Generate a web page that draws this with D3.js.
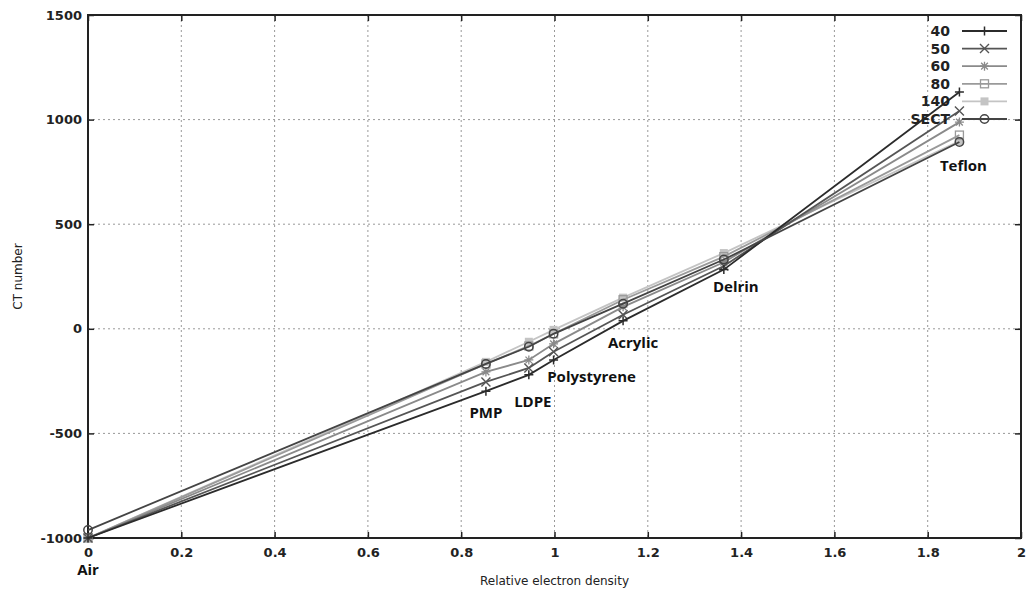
<!DOCTYPE html>
<html>
<head>
<meta charset="utf-8">
<script src="https://cdn.jsdelivr.net/npm/d3@7"></script>
<style>
  body { margin: 0; background: #fff; }
  .tick text { font-family: "DejaVu Sans", Verdana, sans-serif; font-weight: bold; font-size: 13px; fill: #222; }
  .mat { font-family: "Open Sans", "Noto Sans", sans-serif; font-weight: bold; font-size: 15px; fill: #111; }
  .ttl { font-family: "DejaVu Sans", Verdana, sans-serif; font-size: 12px; fill: #222; }
  .leg { font-family: "DejaVu Sans", Verdana, sans-serif; font-weight: bold; font-size: 14px; fill: #222; }
</style>
</head>
<body>
<div id="chart"></div>
<script>
const width = 1030;
const height = 592;
const margin = {top: 15, right: 9, bottom: 55, left: 88};

// materials and their relative electron density
const materials = ["Air", "PMP", "LDPE", "Polystyrene", "Acrylic", "Delrin", "Teflon"];
const density = [0, 0.853, 0.945, 0.998, 1.147, 1.363, 1.868];

// CT number per series (kVp / SECT)
const ct40 = [-1000, -298, -220, -149, 38, 283, 1132];
const ct50 = [-1000, -254, -187, -110, 67, 300, 1041];
const ct60 = [-1000, -206, -149, -72, 105, 318, 988];
const ct80 = [-1000, -168, -82, -24, 139, 345, 926];
const ct140 = [-1000, -158, -62, -5, 149, 362, 897];
const ctSect = [-962, -168, -86, -24, 120, 331, 893];

const seriesNames = ["40", "50", "60", "80", "140", "SECT"];
const xTicks = [0, 0.2, 0.4, 0.6, 0.8, 1, 1.2, 1.4, 1.6, 1.8, 2];
const yTicks = [-1000, -500, 0, 500, 1000, 1500];

const series = [
  {name: seriesNames[0], values: ct40, line: "#2b2b2b", mark: "plus"},
  {name: seriesNames[1], values: ct50, line: "#555", mark: "cross"},
  {name: seriesNames[2], values: ct60, line: "#8a8a8a", mark: "star"},
  {name: seriesNames[3], values: ct80, line: "#9a9a9a", mark: "square"},
  {name: seriesNames[4], values: ct140, line: "#c4c4c4", mark: "fsquare"},
  {name: seriesNames[5], values: ctSect, line: "#444", mark: "circle"}
];

// label placement offsets (pixels relative to the 40 kVp point)
const labelOffsets = [[0, 32], [0, 27], [4, 32], [38, 22], [10, 27], [12, 22], [4, 79]];

const x = d3.scaleLinear().domain([0, 2]).range([margin.left, width - margin.right]);
const y = d3.scaleLinear().domain([-1000, 1500]).range([height - margin.bottom + 1, margin.top]);

const svg = d3.select("#chart").append("svg")
  .attr("width", width).attr("height", height);

const pw = x(2) - x(0), ph = y(-1000) - y(1500);

// grid
svg.append("g").selectAll("line").data(xTicks.slice(1, -1)).join("line")
  .attr("x1", d => x(d)).attr("x2", d => x(d)).attr("y1", y(1500)).attr("y2", y(-1000))
  .attr("stroke", "#999").attr("stroke-dasharray", "2,3").attr("stroke-width", 1);
svg.append("g").selectAll("line").data(yTicks.slice(1, -1)).join("line")
  .attr("y1", d => y(d)).attr("y2", d => y(d)).attr("x1", x(0)).attr("x2", x(2))
  .attr("stroke", "#999").attr("stroke-dasharray", "2,3").attr("stroke-width", 1);

// axes with inward ticks
svg.append("g").attr("transform", `translate(0,${y(-1000)})`)
  .call(d3.axisBottom(x).tickValues(xTicks).tickFormat(d => String(d)).tickSize(-6).tickPadding(10))
  .call(g => g.select(".domain").remove());
svg.append("g").attr("transform", `translate(${x(0)},0)`)
  .call(d3.axisLeft(y).tickValues(yTicks).tickFormat(d => String(d)).tickSize(-6).tickPadding(6))
  .call(g => g.select(".domain").remove());
svg.append("g").attr("transform", `translate(0,${y(1500)})`)
  .call(d3.axisTop(x).tickValues(xTicks).tickSize(-6).tickFormat(""))
  .call(g => g.select(".domain").remove());
svg.append("g").attr("transform", `translate(${x(2)},0)`)
  .call(d3.axisRight(y).tickValues(yTicks).tickSize(-6).tickFormat(""))
  .call(g => g.select(".domain").remove());
svg.selectAll(".tick line").attr("stroke", "#222").attr("stroke-width", 1.5);

svg.append("rect")
  .attr("x", x(0)).attr("y", y(1500)).attr("width", pw).attr("height", ph)
  .attr("fill", "none").attr("stroke", "#222").attr("stroke-width", 2);

const line = d3.line().x((d, i) => x(density[i])).y(d => y(d));

const drawMark = (g, type, color, cx, cy) => {
  const s = 4.5;
  if (type === "plus") {
    g.append("path").attr("d", `M${cx - s},${cy}H${cx + s}M${cx},${cy - s}V${cy + s}`)
      .attr("stroke", color).attr("stroke-width", 1.5);
  } else if (type === "cross") {
    g.append("path").attr("d", `M${cx - s},${cy - s}L${cx + s},${cy + s}M${cx - s},${cy + s}L${cx + s},${cy - s}`)
      .attr("stroke", color).attr("stroke-width", 1.4);
  } else if (type === "star") {
    g.append("path").attr("d", `M${cx - s},${cy}H${cx + s}M${cx},${cy - s}V${cy + s}M${cx - s * 0.75},${cy - s * 0.75}L${cx + s * 0.75},${cy + s * 0.75}M${cx - s * 0.75},${cy + s * 0.75}L${cx + s * 0.75},${cy - s * 0.75}`)
      .attr("stroke", color).attr("stroke-width", 1.3);
  } else if (type === "square") {
    g.append("rect").attr("x", cx - 4).attr("y", cy - 4).attr("width", 8).attr("height", 8)
      .attr("fill", "none").attr("stroke", color).attr("stroke-width", 1.3);
  } else if (type === "fsquare") {
    g.append("rect").attr("x", cx - 4).attr("y", cy - 4).attr("width", 8).attr("height", 8)
      .attr("fill", color).attr("stroke", "none");
  } else {
    g.append("circle").attr("cx", cx).attr("cy", cy).attr("r", 4.2)
      .attr("fill", "none").attr("stroke", color).attr("stroke-width", 1.5);
  }
};

// draw lighter series first
const order = [4, 3, 2, 1, 0, 5];
order.forEach(k => {
  const s = series[k];
  const g = svg.append("g");
  g.append("path").datum(s.values).attr("d", line)
    .attr("fill", "none").attr("stroke", s.line).attr("stroke-width", 1.8);
  s.values.forEach((v, i) => drawMark(g, s.mark, s.line, x(density[i]), y(v)));
});

// material labels
svg.append("g").selectAll("text").data(materials).join("text")
  .attr("class", "mat")
  .attr("text-anchor", "middle")
  .attr("x", (d, i) => x(density[i]) + labelOffsets[i][0])
  .attr("y", (d, i) => (i === 0 ? y(-1000) + 37 : y(ct40[i]) + labelOffsets[i][1]))
  .text(d => d);

// legend
const leg = svg.append("g");
series.forEach((s, i) => {
  const ly = 31 + i * 17.6;
  leg.append("text").attr("class", "leg").attr("x", 950).attr("y", ly + 5)
    .attr("text-anchor", "end").text(s.name);
  leg.append("line").attr("x1", 962).attr("x2", 1007).attr("y1", ly).attr("y2", ly)
    .attr("stroke", s.line).attr("stroke-width", 1.8);
  drawMark(leg, s.mark, s.line, 984.5, ly);
});

// axis titles
svg.append("text").attr("class", "ttl").attr("x", x(1)).attr("y", 585)
  .attr("text-anchor", "middle").text("Relative electron density");
svg.append("text").attr("class", "ttl")
  .attr("transform", `translate(22,${(y(1500) + y(-1000)) / 2}) rotate(-90)`)
  .attr("text-anchor", "middle").text("CT number");
</script>
</body>
</html>
